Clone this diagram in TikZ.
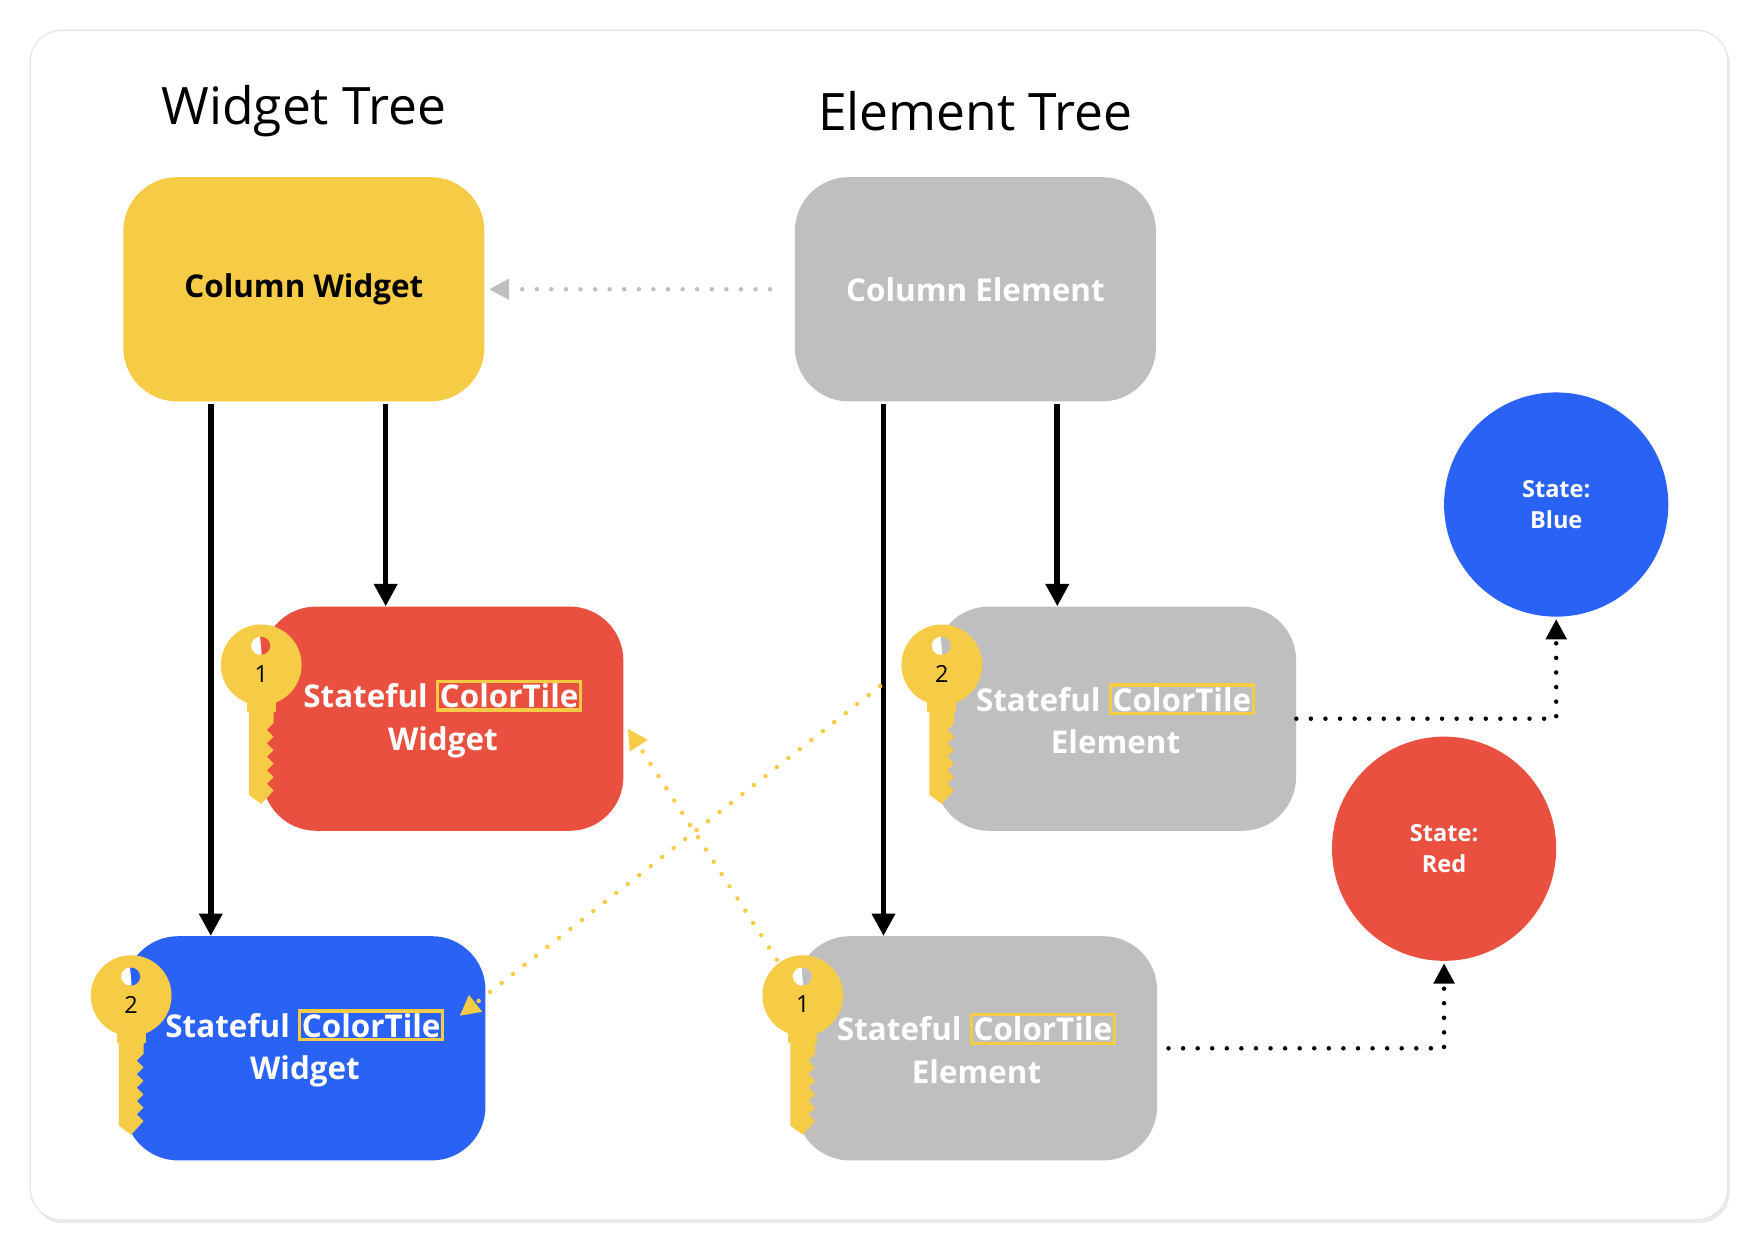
\documentclass[tikz,border=0pt]{standalone}
\usepackage{fontspec}
\setmainfont{Open Sans}
\usetikzlibrary{arrows.meta,calc}
\definecolor{ylw}{HTML}{F6CB45}
\definecolor{gry}{HTML}{BFBFBF}
\definecolor{rd}{HTML}{E95040}
\definecolor{bl}{HTML}{2962F5}
\tikzset{
 box/.style={rounded corners=48pt,minimum width=322pt,minimum height=200pt,inner sep=0pt,align=center,font=\fontsize{28}{38}\selectfont\bfseries,text=white},
 st/.style={circle,minimum size=200pt,inner sep=0pt,align=center,font=\fontsize{21}{28}\selectfont\bfseries,text=white},
 solid arr/.style={line width=5pt,-{Triangle[length=20pt,width=20pt]}},
 dot arr/.style={line width=4pt,line cap=round,dash pattern=on 0pt off 13pt,-{Triangle[length=18pt,width=18pt]}},
 ttl/.style={font=\fontsize{46}{50}\selectfont},
 ct/.style={draw=ylw,line width=3pt,inner sep=2pt,rounded corners=0pt,minimum width=0pt,minimum height=0pt,fill=none}
}
\newcommand{\ctile}{\tikz[baseline=(c.base)]\node[ct](c){ColorTile};}
\newcommand{\mykey}[4]{% x y number holecolour
 \begin{scope}[shift={(#1,#2)}]
  \fill[ylw] (0,0) circle (36pt);
  \fill[ylw] (-13,30) rectangle (13,42);
  \fill[ylw] (-11,40) -- (11,40) -- (11,52) -- (5,58) -- (11,64) -- (5,70) -- (11,76) -- (5,82) -- (11,88) -- (5,94) -- (11,100) -- (5,106) -- (11,112) -- (0,124) -- (-11,116) -- cycle;
  \fill[#4] (0,-17) circle (8pt);
  \fill[white] (-1,-17) ++(90:8pt) arc (90:280:8pt) -- cycle;
  \node[font=\fontsize{21}{24}\selectfont] at (0,8) {#3};
 \end{scope}}
\begin{document}
\begin{tikzpicture}[x=1pt,y=-1pt]
\useasboundingbox (0,0) rectangle (1568,1116);
\fill[white] (0,0) rectangle (1568,1116);
\fill[black!8,rounded corners=28pt] (29,30) rectangle (1543,1091);
\filldraw[fill=white,draw=black!10,line width=1pt,rounded corners=28pt] (27,27) rectangle (1541,1088);
\node[ttl] (t1) at (271,99) {Widget Tree};
\node[ttl] (t2) at (870,99) {Element Tree};
\node[box,fill=ylw,text=black] (cw) at (271,258) {Column Widget};
\node[box,fill=gry] (ce) at (870,258) {Column Element};
\node[box,fill=rd] (rw) at (395,641) {Stateful \ctile\\Widget};
\node[box,fill=bl] (bw) at (272,935) {Stateful \ctile\\Widget};
\node[box,fill=gry] (e2) at (995,641) {Stateful \ctile\\Element};
\node[box,fill=gry] (e1) at (871,935) {Stateful \ctile\\Element};
\node[st,fill=bl] (sb) at (1388,450) {State:\\Blue};
\node[st,fill=rd] (sr) at (1288,757) {State:\\Red};
\mykey{233}{593}{1}{rd}
\mykey{117}{888}{2}{bl}
\mykey{840}{593}{2}{gry}
\mykey{716}{888}{1}{gry}
\coordinate (k2) at (785,612);
\coordinate (k1) at (693,856);
\draw[solid arr] ([xshift=-83pt,yshift=-2pt]cw.south) -- ([xshift=-84pt]bw.north);
\draw[solid arr] ([xshift=73pt,yshift=-2pt]cw.south) -- ([xshift=-51pt]rw.north);
\draw[solid arr] ([xshift=-82pt,yshift=-2pt]ce.south) -- ([xshift=-83pt]e1.north);
\draw[solid arr] ([xshift=73pt,yshift=-2pt]ce.south) -- ([xshift=-52pt]e2.north);
\draw[dot arr,gry] ([xshift=-22pt]ce.west) -- ([xshift=4pt]cw.east);
\draw[dot arr] (e2.east) -- (sb.south |- e2.east) -- ([yshift=-2pt]sb.south);
\draw[dot arr] ([xshift=10pt]e1.east) -- (sr.south |- e1.east) -- ([yshift=-2pt]sr.south);
\draw[dot arr,ylw] (k2) -- (410,906);
\draw[dot arr,ylw] (k1) -- (560,650);
\end{tikzpicture}
\end{document}
